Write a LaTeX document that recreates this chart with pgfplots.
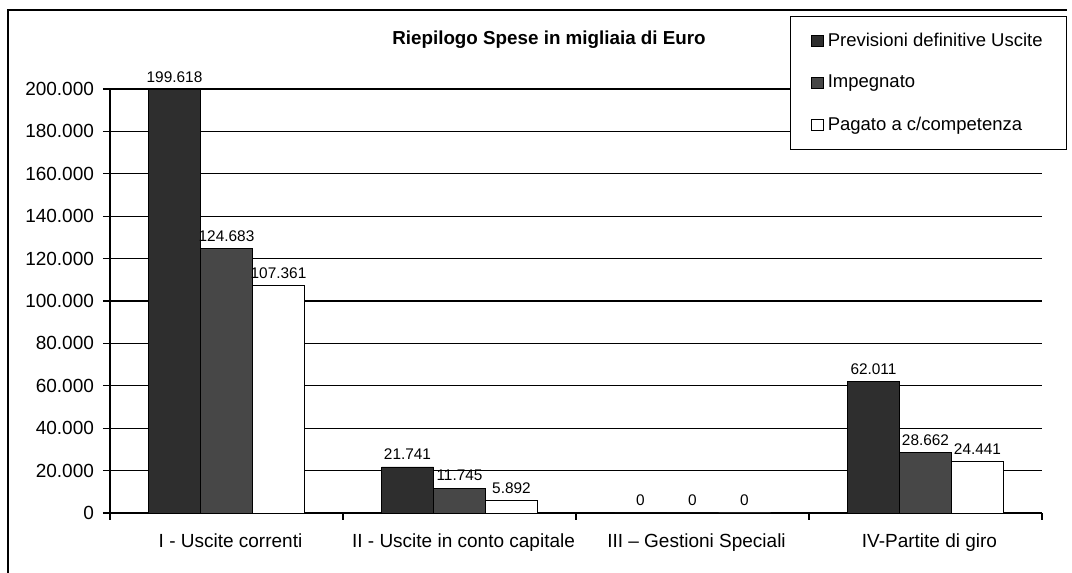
\documentclass[border=0pt]{standalone}
\usepackage{pgfplots}
\pgfplotsset{compat=1.18}
\usepackage{fontspec}
\setmainfont{Liberation Sans}
\begin{document}
\begin{tikzpicture}
\useasboundingbox (0,0) rectangle (536pt,286.5pt);
\draw[line width=0.6pt] (4pt,0) -- (4pt,281.5pt) -- (533.5pt,281.5pt);
\node[font=\bfseries\fontsize{9.4}{11}\selectfont] at (274.5pt,266.5pt) {Riepilogo Spese in migliaia di Euro};
\begin{axis}[
  at={(55pt,30pt)}, anchor=south west,
  scale only axis, width=466pt, height=212pt,
  xmin=-0.5, xmax=3.5, ymin=0, ymax=200000,
  ybar=0pt, bar width=26pt,
  axis x line*=bottom, axis y line*=left,
  axis line style={line width=0.7pt,-},
  tick align=outside, major tick length=3.5pt,
  tick style={black, line width=0.6pt},
  xtick={-0.5,0.5,1.5,2.5,3.5}, xticklabels={},
  extra x ticks={0,1,2,3},
  extra x tick labels={I - Uscite correnti, II - Uscite in conto capitale, III -- Gestioni Speciali, IV-Partite di giro},
  extra x tick style={major tick length=0pt, grid=none, tick label style={yshift=-7pt, xshift=2pt}},
  ytick={0,20000,...,200000},
  yticklabel style={xshift=-1pt},
  scaled y ticks=false,
  ymajorgrids, major grid style={black, line width=0.6pt},
  ticklabel style={font=\fontsize{9.5}{11}\selectfont},
  /pgf/number format/.cd, fixed, 1000 sep={.}, assume math mode=true, /pgfplots/.cd,
  nodes near coords,
  every node near coord/.append style={font=\fontsize{7.7}{9}\selectfont, black,
     /pgf/number format/fixed, /pgf/number format/1000 sep={.}, /pgf/number format/assume math mode=true},
  legend image code/.code={\draw[#1] (0pt,-2.75pt) rectangle (6pt,2.75pt);},
  legend cell align=left,
  legend style={at={(0.7296,1.172)}, anchor=north west, draw=black, line width=0.6pt,
     font=\fontsize{9.25}{11}\selectfont, row sep=9pt, inner xsep=10pt, inner ysep=6pt},
]
\addplot[fill=black!82, draw=black] coordinates {(0,199618) (1,21741) (2,0) (3,62011)};
\addplot[fill=black!72, draw=black] coordinates {(0,124683) (1,11745) (2,0) (3,28662)};
\addplot[fill=white, draw=black] coordinates {(0,107361) (1,5892) (2,0) (3,24441)};
\legend{Previsioni definitive Uscite, Impegnato, Pagato a c/competenza}
\end{axis}
\end{tikzpicture}
\end{document}
